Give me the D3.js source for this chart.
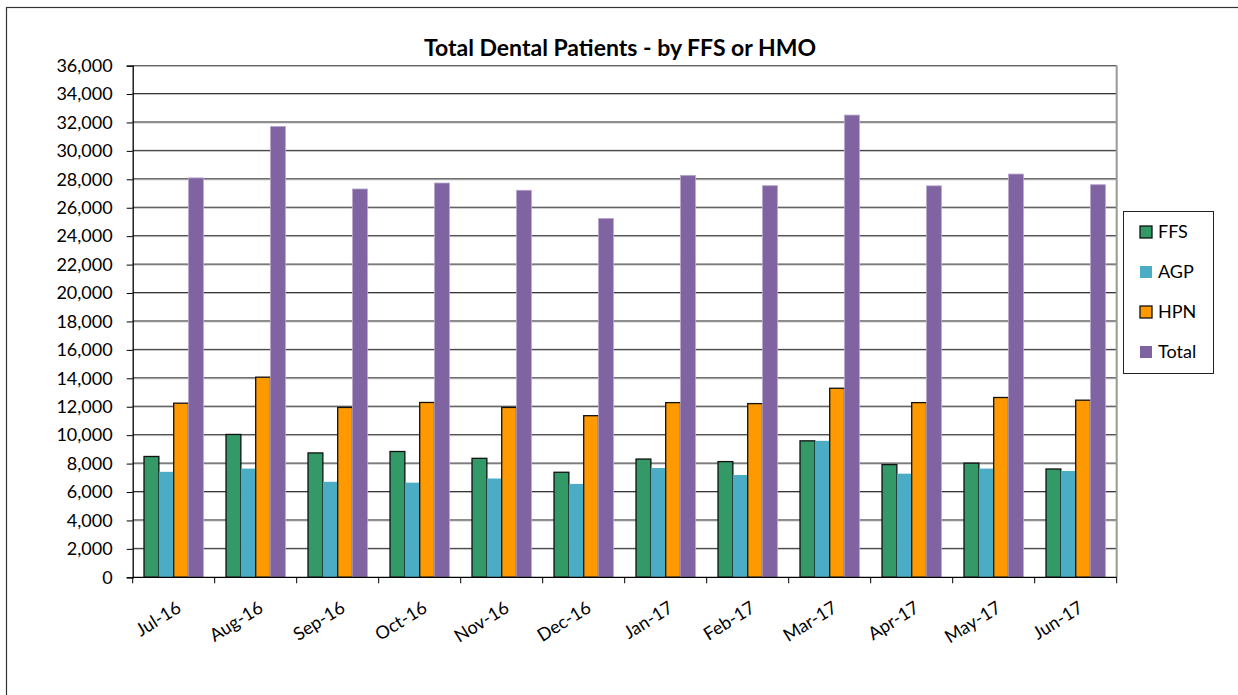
<!DOCTYPE html>
<html>
<head>
<meta charset="utf-8">
<script src="https://cdn.jsdelivr.net/npm/d3@7"></script>
<style>
  body { margin: 0; background: #fff; }
  svg text { font-family: Lato, "Open Sans", sans-serif; fill: #000; }
</style>
</head>
<body>
<div id="chart"></div>
<script>
// Dental patients by month, FFS / AGP / HPN / Total

var months = ["Jul-16", "Aug-16", "Sep-16", "Oct-16", "Nov-16", "Dec-16",
              "Jan-17", "Feb-17", "Mar-17", "Apr-17", "May-17", "Jun-17"];
var seriesNames = ["FFS", "AGP", "HPN", "Total"];
var ffs   = [8500, 10050, 8750, 8850, 8370, 7390, 8320, 8140, 9600, 7930, 8030, 7620];
var agp   = [7420, 7650, 6720, 6660, 6950, 6570, 7690, 7200, 9600, 7290, 7650, 7480];
var hpn   = [12250, 14080, 11950, 12300, 11950, 11370, 12290, 12220, 13300, 12290, 12650, 12460];
var total = [28100, 31720, 27320, 27740, 27230, 25250, 28280, 27550, 32520, 27540, 28370, 27620];
var yTicks = d3.range(0, 36001, 2000);

var colors = { FFS: "#339966", AGP: "#4bacc6", HPN: "#ff9900", Total: "#8064a2" };
var outlined = { FFS: true, AGP: false, HPN: true, Total: false };

var width = 1238, height = 695;
var plotLeft = 132.7, plotRight = 1116.7, plotTop = 65.6, plotBottom = 577.3;

var svg = d3.select("#chart")
	.append("svg")
		.attr("width", width)
		.attr("height", height);

// outer chart border
svg.append("rect")
	.attr("x", 6.5).attr("y", 7.5)
	.attr("width", 1400).attr("height", 900)
	.attr("fill", "none")
	.attr("stroke", "#333")
	.attr("stroke-width", 1.2);

var x = d3.scaleBand().domain(months).range([plotLeft, plotRight]).paddingInner(0.276).paddingOuter(0.138);
var x1 = d3.scaleBand().domain(seriesNames).range([0, x.bandwidth()]);
var y = d3.scaleLinear().domain([0, 36000]).range([plotBottom, plotTop]);

var values = { FFS: ffs, AGP: agp, HPN: hpn, Total: total };

// gridlines (dark line with a light shadow under it)
svg.append("g")
	.selectAll("line")
	.data(yTicks.slice(1))
	.enter().append("line")
		.attr("x1", plotLeft).attr("x2", plotRight)
		.attr("y1", function(d) { return y(d) + 0.5; })
		.attr("y2", function(d) { return y(d) + 0.5; })
		.attr("stroke", "#c0c0c0")
		.attr("stroke-width", 1);
svg.append("g")
	.selectAll("line")
	.data(yTicks.slice(1, -1))
	.enter().append("line")
		.attr("x1", plotLeft).attr("x2", plotRight)
		.attr("y1", function(d) { return y(d) - 0.5; })
		.attr("y2", function(d) { return y(d) - 0.5; })
		.attr("stroke", "#333")
		.attr("stroke-width", 1);

// plot area top/right border
svg.append("line")
	.attr("x1", plotLeft).attr("x2", plotRight)
	.attr("y1", plotTop).attr("y2", plotTop)
	.attr("stroke", "#666").attr("stroke-width", 1.3);
svg.append("line")
	.attr("x1", plotRight).attr("x2", plotRight)
	.attr("y1", plotTop).attr("y2", plotBottom)
	.attr("stroke", "#999").attr("stroke-width", 2);

// bars
var groups = svg.append("g")
	.selectAll("g")
	.data(months)
	.enter().append("g")
		.attr("transform", function(d) { return "translate(" + x(d) + ",0)"; });

groups.selectAll("rect")
	.data(function(d, i) {
		return seriesNames.map(function(s) { return { key: s, value: values[s][i] }; });
	})
	.enter().append("rect")
		.attr("x", function(d) { return x1(d.key); })
		.attr("y", function(d) { return y(d.value); })
		.attr("width", x1.bandwidth())
		.attr("height", function(d) { return plotBottom - y(d.value); })
		.attr("fill", function(d) { return colors[d.key]; })
		.attr("stroke", function(d) { return outlined[d.key] ? "#111" : (d.key == "Total" ? "#b7a6cc" : "none"); })
		.attr("stroke-width", function(d) { return outlined[d.key] ? 1.3 : 0.8; });

// y axis
var yAxis = svg.append("g")
	.attr("transform", "translate(" + plotLeft + ",0)")
	.call(d3.axisLeft(y).tickValues(yTicks).tickSize(6).tickPadding(14)
		.tickFormat(d3.format(",")));
yAxis.select(".domain").attr("stroke", "#000").attr("stroke-width", 1.3);
yAxis.selectAll(".tick line").attr("stroke", "#000");
yAxis.selectAll("text").attr("font-size", 18).style("font-family", "Lato, 'Open Sans', sans-serif");

// x axis
var xAxis = svg.append("g")
	.attr("transform", "translate(0," + plotBottom + ")");
xAxis.append("line")
	.attr("x1", plotLeft).attr("x2", plotRight)
	.attr("stroke", "#000").attr("stroke-width", 1.3);
xAxis.selectAll("line.tick")
	.data(d3.range(months.length + 1))
	.enter().append("line")
		.attr("class", "tick")
		.attr("x1", function(i) { return plotLeft + i * x.step(); })
		.attr("x2", function(i) { return plotLeft + i * x.step(); })
		.attr("y1", 0).attr("y2", 6)
		.attr("stroke", "#000");
xAxis.selectAll("text")
	.data(months)
	.enter().append("text")
		.attr("transform", function(d) {
			return "translate(" + (x(d) + x.bandwidth() / 2 + 2) + ",23) rotate(-32)";
		})
		.attr("text-anchor", "end")
		.attr("dy", "0.7em")
		.attr("font-size", 18)
		.text(function(d) { return d; });

// title
svg.append("text")
	.attr("x", 620).attr("y", 56)
	.attr("text-anchor", "middle")
	.attr("font-size", 23)
	.attr("font-weight", "bold")
	.text("Total Dental Patients - by FFS or HMO");

// legend
var legend = svg.append("g").attr("transform", "translate(1123,211)");
legend.append("rect")
	.attr("x", 0.5).attr("y", 0.5)
	.attr("width", 90).attr("height", 162)
	.attr("fill", "#fff")
	.attr("stroke", "#222");
var item = legend.selectAll("g.item")
	.data(seriesNames)
	.enter().append("g")
		.attr("class", "item")
		.attr("transform", function(d, i) { return "translate(0," + (21 + i * 40) + ")"; });
item.append("rect")
	.attr("x", 17).attr("y", -6)
	.attr("width", 12).attr("height", 12)
	.attr("fill", function(d) { return colors[d]; })
	.attr("stroke", function(d) { return outlined[d] ? "#111" : "none"; })
	.attr("stroke-width", 1.3);
item.append("text")
	.attr("x", 35).attr("y", 0)
	.attr("dy", "0.36em")
	.attr("font-size", 18)
	.text(function(d) { return d; });
</script>
</body>
</html>
